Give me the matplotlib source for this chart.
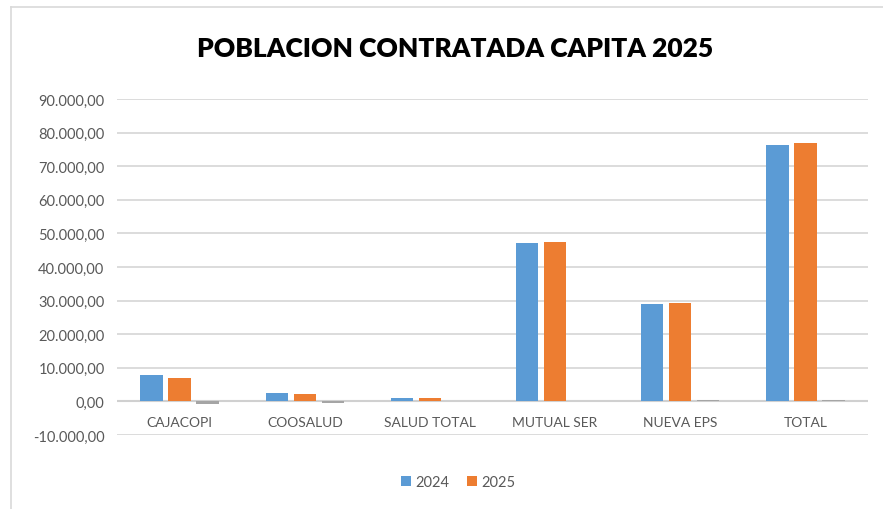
import matplotlib
matplotlib.use("Agg")
import matplotlib.pyplot as plt
from matplotlib.ticker import FuncFormatter, MultipleLocator
from matplotlib.lines import Line2D
import numpy as np

categorias = ["CAJACOPI", "COOSALUD", "SALUD TOTAL", "MUTUAL SER", "NUEVA EPS", "TOTAL"]
pob_2024 = [7750, 2500, 900, 47100, 29000, 76300]
pob_2025 = [6860, 2100, 1100, 47300, 29400, 76800]
diferencia = [-890, -400, 200, 200, 400, 500]

plt.rcParams['font.family'] = ['Lato', 'DejaVu Sans']

W, H = 883, 510
fig = plt.figure(figsize=(W / 100, H / 100), dpi=100)

def fx(px):
    return px / W

def fy(py):
    return 1 - py / H

ax = fig.add_axes([fx(117), fy(436), fx(868) - fx(117), fy(100) - fy(436)])

x = np.arange(len(categorias))
step = 0.224
ancho = 0.178
ax.bar(x - step, pob_2024, ancho, color="#5b9bd5", label="2024", zorder=3)
ax.bar(x, pob_2025, ancho, color="#ed7d31", label="2025", zorder=3)
ax.bar(x + step, diferencia, ancho, color="#a5a5a5", zorder=3)

ax.set_xlim(-0.5, len(categorias) - 0.5)
ax.set_ylim(-10000, 90000)
ax.yaxis.set_major_locator(MultipleLocator(10000))

def fmt(v, pos):
    s = f"{v:,.2f}"
    return s.replace(",", "X").replace(".", ",").replace("X", ".")

ax.yaxis.set_major_formatter(FuncFormatter(fmt))
ax.grid(axis="y", color="#d9d9d9", linewidth=1.3, zorder=0)
ax.axhline(0, color="#d0d0d0", linewidth=1.5, zorder=2)
for s in ax.spines.values():
    s.set_visible(False)
ax.tick_params(axis="y", length=0, pad=9, labelsize=10.5, labelcolor="#595959")
ax.set_xticks([])
for i, c in enumerate(categorias):
    ax.text(i, -6200, c, ha="center", va="center", fontsize=10, color="#595959")

fig.text(0.515, fy(49), "POBLACION CONTRATADA CAPITA 2025", ha="center", va="center",
         fontsize=19, fontweight="heavy", color="black")

leg = fig.legend(loc="center", bbox_to_anchor=(fx(458), fy(483)), ncol=2, frameon=False,
                 fontsize=10.5, handlelength=0.7, handleheight=0.7, handletextpad=0.3,
                 columnspacing=1.2)
for t in leg.get_texts():
    t.set_color("#595959")

# marco del grafico
fig.add_artist(Line2D([fx(11), 1], [fy(8), fy(8)], color="#d9d9d9", linewidth=1.2))
fig.add_artist(Line2D([fx(11), fx(11)], [fy(8), 0], color="#d9d9d9", linewidth=1.2))

fig.savefig("out.png", dpi=100)
